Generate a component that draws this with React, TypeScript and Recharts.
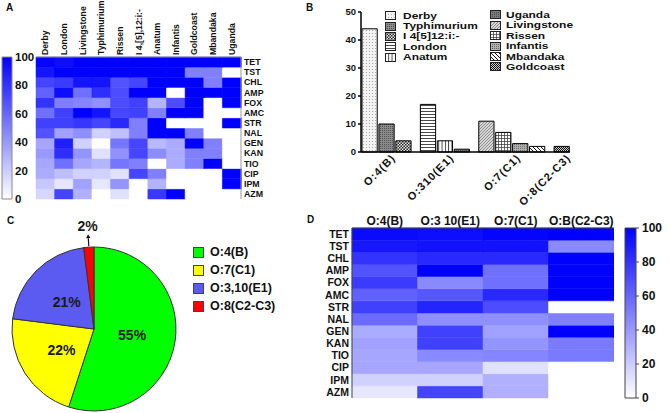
import React from 'react';
import { BarChart, Bar, XAxis, YAxis, Cell, PieChart, Pie } from 'recharts';

const FONT = 'Arial, "Liberation Sans", Helvetica, sans-serif';
const INK = '#111';

// antibiotics, top row first (panels A and D)
const drugs = ['TET', 'TST', 'CHL', 'AMP', 'FOX', 'AMC', 'STR', 'NAL', 'GEN', 'KAN', 'TIO', 'CIP', 'IPM', 'AZM'];

// Panel A: % resistant isolates per serovar
const serovarsA = ['Derby', 'London', 'Livingstone', 'Typhimurium', 'Rissen', 'I 4,[5],12:i:-', 'Anatum', 'Infantis', 'Goldcoast', 'Mbandaka', 'Uganda'];
const tetA = [98, 95, 100, 100, 100, 100, 100, 100, 100, 100, 100];
const tstA = [92, 100, 100, 100, 100, 100, 100, 100, 50, 50, 0];
const chlA = [73, 77, 92, 92, 68, 73, 100, 100, 100, 50, 100];
const ampA = [62, 95, 56, 82, 70, 100, 100, 0, 100, 100, 100];
const foxA = [80, 50, 48, 43, 70, 75, 30, 70, 100, 0, 100];
const amcA = [56, 75, 100, 92, 72, 75, 50, 100, 100, 0, 0];
const strA = [75, 75, 79, 73, 84, 50, 100, 0, 0, 0, 100];
const nalA = [68, 37, 44, 18, 25, 50, 100, 100, 50, 0, 0];
const genA = [35, 88, 18, 0, 54, 73, 28, 33, 100, 50, 0];
const kanA = [40, 82, 42, 12, 43, 73, 45, 33, 50, 50, 0];
const tioA = [35, 56, 35, 29, 54, 50, 0, 33, 50, 100, 0];
const cipA = [33, 25, 18, 18, 12, 73, 50, 0, 0, 0, 100];
const ipmA = [22, 10, 37, 10, 42, 0, 30, 0, 0, 0, 100];
const azmA = [16, 73, 31, 0, 12, 0, 78, 100, 0, 0, 0];
const rowsA: Record<string, number[]> = {
  TET: tetA, TST: tstA, CHL: chlA, AMP: ampA, FOX: foxA, AMC: amcA, STR: strA,
  NAL: nalA, GEN: genA, KAN: kanA, TIO: tioA, CIP: cipA, IPM: ipmA, AZM: azmA,
};

// Panel B: number of isolates per serovar, grouped by serogroup
const serogroupLabels = ['O:4(B)', 'O:310(E1)', 'O:7(C1)', 'O:8(C2-C3)'];
const serogroupMembers = [
  ['Derby', 'Typhimurium', 'I 4[5]12:i:-'],
  ['London', 'Anatum', 'Uganda'],
  ['Livingstone', 'Rissen', 'Infantis', 'Mbandaka'],
  ['Goldcoast'],
];
const isolateCounts = [[44, 10, 4], [17, 4, 1], [11, 7, 3, 2], [2]];
const countTicks = [0, 10, 20, 30, 40, 50];

// Panel C: share of isolates per serogroup
const pieNames = ['O:4(B)', 'O:7(C1)', 'O:3,10(E1)', 'O:8(C2-C3)'];
const pieShares = [55, 22, 21, 2];

// Panel D: % resistant per serogroup (one array per serogroup, drug order)
const serogroupsD = ['O:4(B)', 'O:3 10(E1)', 'O:7(C1)', 'O:B(C2-C3)'];
const o4B = [96, 91, 80, 68, 77, 62, 75, 58, 33, 37, 35, 35, 18, 10];
const o310E1 = [95, 93, 84, 100, 46, 66, 86, 44, 75, 75, 46, 35, 18, 73];
const o7C1 = [98, 93, 84, 56, 56, 84, 70, 44, 37, 42, 48, 12, 31, 31];
const o8C2C3 = [100, 46, 100, 100, 100, 100, 0, 50, 100, 52, 52, 0, 0, 0];
const colsD = [o4B, o310E1, o7C1, o8C2C3];

const scaleTicks = [0, 20, 40, 60, 80, 100];

// ---- helpers ----
const heat = (v: number) => {
  const c = Math.round(255 * (1 - v / 100));
  return `rgb(${c},${c},255)`;
};
const rowTicks = drugs.map((_, i) => i + 0.5);
const rowName = (t: number) => drugs[drugs.length - 1 - Math.floor(t)];
const unitRow = (name: string) => ({ name, ...Object.fromEntries(drugs.map(d => [d, 1])) });

const heatBars = (cols: string[], value: (drug: string, col: number) => number) =>
  [...drugs].reverse().map(d => (
    <Bar key={d} dataKey={d} stackId="cells" isAnimationActive={false}>
      {cols.map((c, i) => {
        const f = heat(value(d, i));
        return <Cell key={c} fill={f} stroke={f} strokeWidth={0.5} />;
      })}
    </Bar>
  ));

const VerticalTick = (props: any) => {
  const { x, y, payload } = props;
  return (
    <g transform={`translate(${x},${y})`}>
      <text x={0} y={0} transform="rotate(-90)" textAnchor="start" dy="0.35em"
        fontSize={8.7} fontWeight="bold" fill={INK} fontFamily={FONT}>
        {payload.value}
      </text>
    </g>
  );
};

const ColorBar: React.FC<{ width: number; height: number; top: number; bottom: number; left: number; gradId: string; border: string; fontSize: number; tick: number }> =
  ({ width, height, top, bottom, left, gradId, border, fontSize, tick }) => (
    <BarChart width={width} height={height} data={[{ name: 'scale', v: 100 }]} margin={{ top, right: 0, bottom, left }} barCategoryGap={0}>
      <defs>
        <linearGradient id={gradId} x1="0" y1="1" x2="0" y2="0">
          <stop offset="0" stopColor="#ffffff" />
          <stop offset="1" stopColor="#0000ff" />
        </linearGradient>
      </defs>
      <XAxis dataKey="name" hide />
      <YAxis orientation="right" domain={[0, 100]} ticks={scaleTicks} interval={0} width={33}
        axisLine={false} tickLine={tick > 0 ? { stroke: '#444' } : false} tickSize={tick} tickMargin={3}
        tick={{ fontSize, fontWeight: 'bold', fill: INK, fontFamily: FONT }} />
      <Bar dataKey="v" fill={`url(#${gradId})`} stroke={border} strokeWidth={1} isAnimationActive={false} />
    </BarChart>
  );

// ---- panel B layout ----
const GROUP_GAP = 0.45;
const barRows: { name: string; count: number; slot: number }[] = [];
{
  let cursor = 0;
  serogroupMembers.forEach((members, g) => {
    members.forEach((name, j) => {
      barRows.push({ name, count: isolateCounts[g][j], slot: cursor });
      cursor += 1;
    });
    cursor += GROUP_GAP;
  });
}
const groupCenters = serogroupMembers.map(members => {
  const slots = barRows.filter(r => members.includes(r.name)).map(r => r.slot);
  return slots.reduce((a, b) => a + b, 0) / slots.length;
});
const slotMin = barRows[0].slot - 0.5;
const slotMax = barRows[barRows.length - 1].slot + 0.5;
const PLOT_W_B = 209;
const BAR_W = PLOT_W_B / (slotMax - slotMin);

const patternIds = ['p-derby', 'p-typh', 'p-i4', 'p-london', 'p-anatum', 'p-uganda', 'p-liv', 'p-rissen', 'p-inf', 'p-mband', 'p-gold'];

const Patterns = () => (
  <svg width={0} height={0} style={{ position: 'absolute' }}>
    <defs>
      <pattern id="p-derby" width={3} height={3} patternUnits="userSpaceOnUse">
        <rect width={3} height={3} fill="#f3f3f3" />
        <rect width={1} height={1} fill="#a8a8a8" />
      </pattern>
      <pattern id="p-typh" width={2} height={2} patternUnits="userSpaceOnUse">
        <rect width={2} height={2} fill="#8a8a8a" />
        <rect width={1} height={1} fill="#555" />
      </pattern>
      <pattern id="p-i4" width={3} height={3} patternUnits="userSpaceOnUse">
        <rect width={3} height={3} fill="#e8e8e8" />
        <rect width={1.5} height={1.5} fill="#222" />
        <rect x={1.5} y={1.5} width={1.5} height={1.5} fill="#222" />
      </pattern>
      <pattern id="p-london" width={3} height={3} patternUnits="userSpaceOnUse">
        <rect width={3} height={3} fill="#fff" />
        <rect width={3} height={0.9} fill="#333" />
      </pattern>
      <pattern id="p-anatum" width={3.3} height={3} patternUnits="userSpaceOnUse">
        <rect width={3.3} height={3} fill="#fff" />
        <rect width={0.9} height={3} fill="#333" />
      </pattern>
      <pattern id="p-uganda" width={2} height={2} patternUnits="userSpaceOnUse">
        <rect width={2} height={2} fill="#7a7a7a" />
        <rect width={1} height={1} fill="#505050" />
      </pattern>
      <pattern id="p-liv" width={3} height={3} patternUnits="userSpaceOnUse">
        <rect width={3} height={3} fill="#d8d8d8" />
        <path d="M0,3 L3,0" stroke="#777" strokeWidth={0.8} />
      </pattern>
      <pattern id="p-rissen" width={3} height={3} patternUnits="userSpaceOnUse">
        <rect width={3} height={3} fill="#fff" />
        <rect width={3} height={0.8} fill="#444" />
        <rect width={0.8} height={3} fill="#444" />
      </pattern>
      <pattern id="p-inf" width={2} height={2} patternUnits="userSpaceOnUse">
        <rect width={2} height={2} fill="#b0b0b0" />
        <rect width={1} height={1} fill="#6a6a6a" />
      </pattern>
      <pattern id="p-mband" width={4} height={4} patternUnits="userSpaceOnUse">
        <rect width={4} height={4} fill="#fff" />
        <path d="M0,0 L4,4 M-1,3 L1,5 M3,-1 L5,1" stroke="#111" strokeWidth={1} />
      </pattern>
      <pattern id="p-gold" width={2} height={2} patternUnits="userSpaceOnUse">
        <rect width={2} height={2} fill="#ccc" />
        <rect width={1} height={1} fill="#111" />
        <rect x={1} y={1} width={1} height={1} fill="#111" />
      </pattern>
    </defs>
  </svg>
);

const SlantTick = (props: any) => {
  const { x, y, payload } = props;
  const label = serogroupLabels[groupCenters.indexOf(payload.value)];
  return (
    <g transform={`translate(${x + 7},${y + 2})`}>
      <text x={0} y={0} transform="rotate(-45)" textAnchor="end" dy="0.35em"
        fontSize={11} fontWeight="bold" letterSpacing={1} fill={INK} fontFamily={FONT}>
        {label}
      </text>
    </g>
  );
};

// ---- panel C ----
const pieColors = ['#00ff00', '#ffff00', '#5b5bf2', '#ff0000'];
const pieRows = pieNames.map((name, i) => ({ name, value: pieShares[i] }));
const RAD = Math.PI / 180;

const renderPieLabel = (p: any) => {
  const { cx, cy, midAngle, outerRadius, value } = p;
  const cos = Math.cos(-midAngle * RAD);
  const sin = Math.sin(-midAngle * RAD);
  const style = { fontSize: 14, fontWeight: 'bold' as const, fill: '#1a1a1a', fontFamily: FONT };
  if (value < 5) {
    const x1 = cx + (outerRadius + 1) * cos;
    const y1 = cy + (outerRadius + 1) * sin;
    const x2 = cx + (outerRadius + 13) * cos;
    const y2 = cy + (outerRadius + 13) * sin;
    const bx = x2 - 4 * cos;
    const by = y2 - 4 * sin;
    const head = `${x2},${y2} ${bx - 2.2 * sin},${by + 2.2 * cos} ${bx + 2.2 * sin},${by - 2.2 * cos}`;
    return (
      <g>
        <line x1={x1} y1={y1} x2={bx} y2={by} stroke="#111" strokeWidth={1.2} />
        <polygon points={head} fill="#111" />
        <text x={cx + (outerRadius + 21) * cos} y={cy + (outerRadius + 21) * sin} textAnchor="middle" dominantBaseline="central" {...style}>
          {value}%
        </text>
      </g>
    );
  }
  const r = outerRadius * 0.47;
  return (
    <text x={cx + r * cos} y={cy + r * sin} textAnchor="middle" dominantBaseline="central" {...style}>
      {value}%
    </text>
  );
};

const PanelLetter: React.FC<{ x: number; y: number; children: React.ReactNode }> = ({ x, y, children }) => (
  <div style={{ position: 'absolute', left: x, top: y, fontSize: 10, fontWeight: 'bold', color: INK }}>{children}</div>
);

const legendColB = [serogroupMembers.flat().slice(0, 5), serogroupMembers.flat().slice(5)];

export default function App() {
  const allSerovarsB = serogroupMembers.flat();
  return (
    <div style={{ position: 'absolute', left: 0, top: 0, width: 669, height: 413, background: '#fff', fontFamily: FONT, overflow: 'hidden' }}>
      <Patterns />

      {/* A */}
      <div style={{ position: 'absolute', left: 0, top: 0 }}>
        <BarChart width={270} height={205} data={serovarsA.map(unitRow)} margin={{ top: 0, right: 0, bottom: 6, left: 36 }} barCategoryGap={0} barGap={0}>
          <XAxis dataKey="name" orientation="top" height={57} interval={0} tickSize={0} tickMargin={2} tickLine={false}
            axisLine={{ stroke: '#999' }} tick={VerticalTick} />
          <XAxis xAxisId="frame" dataKey="name" orientation="bottom" height={0} tick={false} tickLine={false} axisLine={{ stroke: '#999' }} />
          <YAxis type="number" orientation="right" domain={[0, 14]} ticks={rowTicks} interval={0} width={29} tickSize={0} tickMargin={3}
            tickLine={false} axisLine={{ stroke: '#999' }} tickFormatter={rowName}
            tick={{ fontSize: 8.8, fontWeight: 'bold', fill: INK, fontFamily: FONT }} />
          <YAxis yAxisId="frame" type="number" orientation="left" width={0} domain={[0, 14]} tick={false} tickLine={false} axisLine={{ stroke: '#999' }} />
          {heatBars(serovarsA, (d, i) => rowsA[d][i])}
        </BarChart>
      </div>
      <div style={{ position: 'absolute', left: 0, top: 0 }}>
        <ColorBar width={45} height={205} top={57} bottom={6} left={2} gradId="gradA" border="#888" fontSize={11.5} tick={0} />
      </div>

      {/* B */}
      <div style={{ position: 'absolute', left: 270, top: 0 }}>
        <BarChart width={399} height={210} data={barRows} margin={{ top: 12, right: 99, bottom: 0, left: 61 }}>
          <XAxis dataKey="slot" type="number" domain={[slotMin, slotMax]} ticks={groupCenters} interval={0} height={58}
            allowDecimals tickLine={false} tickSize={0} axisLine={{ stroke: '#000', strokeWidth: 1.5 }} tick={SlantTick} />
          <YAxis domain={[0, 50]} ticks={countTicks} interval={0} width={30} tickSize={3} tickMargin={2}
            axisLine={{ stroke: '#000', strokeWidth: 1.5 }} tickLine={{ stroke: '#000', strokeWidth: 1.5 }}
            tick={{ fontSize: 9.5, fontWeight: 'bold', fill: INK, fontFamily: FONT }} />
          <Bar dataKey="count" barSize={BAR_W} stroke="#000" strokeWidth={1} isAnimationActive={false}>
            {barRows.map((r, i) => (
              <Cell key={r.name} fill={`url(#${patternIds[i]})`} />
            ))}
          </Bar>
        </BarChart>
      </div>
      {legendColB.map((col, c) => (
        <div key={c} style={{ position: 'absolute', left: c === 0 ? 385 : 490, top: c === 0 ? 10.5 : 9.8 }}>
          {col.map(name => (
            <div key={name} style={{ display: 'flex', alignItems: 'center', height: 10.4 }}>
              <svg width={11} height={9} style={{ marginRight: c === 0 ? 7 : 5 }}>
                <rect x={0.5} y={0.5} width={10} height={8} fill={`url(#${patternIds[allSerovarsB.indexOf(name)]})`} stroke="#222" strokeWidth={1} />
              </svg>
              <span style={{ display: 'inline-block', fontSize: 9.2, fontWeight: 'bold', color: INK, lineHeight: '10px', whiteSpace: 'nowrap', transform: 'scaleX(1.3)', transformOrigin: 'left center' }}>{name}</span>
            </div>
          ))}
        </div>
      ))}

      {/* C */}
      <div style={{ position: 'absolute', left: 0, top: 210 }}>
        <PieChart width={190} height={203}>
          <Pie data={pieRows} dataKey="value" nameKey="name" cx={89} cy={114} outerRadius={82} startAngle={90} endAngle={-270}
            stroke="#333" strokeWidth={1} label={renderPieLabel} labelLine={false} isAnimationActive={false}>
            {pieRows.map((r, i) => (
              <Cell key={r.name} fill={pieColors[i]} />
            ))}
          </Pie>
        </PieChart>
      </div>
      <div style={{ position: 'absolute', left: 193, top: 243 }}>
        {pieRows.map((r, i) => (
          <div key={r.name} style={{ display: 'flex', alignItems: 'center', height: 18 }}>
            <div style={{ width: 9, height: 9, background: pieColors[i], border: '1px solid #444', marginRight: 6 }} />
            <span style={{ fontSize: 12.5, fontWeight: 'bold', color: INK, whiteSpace: 'nowrap' }}>{r.name}</span>
          </div>
        ))}
      </div>

      {/* D */}
      <div style={{ position: 'absolute', left: 316, top: 210 }}>
        <BarChart width={298} height={200} data={serogroupsD.map(unitRow)} margin={{ top: 0, right: 0, bottom: 12, left: 0 }} barCategoryGap={0} barGap={0}>
          <XAxis dataKey="name" orientation="top" height={18} interval={0} tickSize={0} tickMargin={3} tickLine={false}
            axisLine={{ stroke: '#444' }} tick={{ fontSize: 12, fontWeight: 'bold', fill: INK, fontFamily: FONT }} />
          <XAxis xAxisId="frame" dataKey="name" orientation="bottom" height={0} tick={false} tickLine={false} axisLine={{ stroke: '#444' }} />
          <YAxis type="number" orientation="left" domain={[0, 14]} ticks={rowTicks} interval={0} width={36} tickSize={0} tickMargin={3}
            tickLine={false} axisLine={{ stroke: '#444' }} tickFormatter={rowName}
            tick={{ fontSize: 10.5, fontWeight: 'bold', fill: INK, fontFamily: FONT }} />
          <YAxis yAxisId="frame" type="number" orientation="right" width={0} domain={[0, 14]} tick={false} tickLine={false} axisLine={{ stroke: '#444' }} />
          {heatBars(serogroupsD, (d, i) => colsD[i][drugs.indexOf(d)])}
        </BarChart>
      </div>
      <div style={{ position: 'absolute', left: 620, top: 210 }}>
        <ColorBar width={49} height={200} top={18} bottom={12} left={5} gradId="gradD" border="#444" fontSize={12} tick={3} />
      </div>

      <PanelLetter x={6} y={2}>A</PanelLetter>
      <PanelLetter x={306} y={2}>B</PanelLetter>
      <PanelLetter x={7} y={215}>C</PanelLetter>
      <PanelLetter x={307} y={214}>D</PanelLetter>
    </div>
  );
}
